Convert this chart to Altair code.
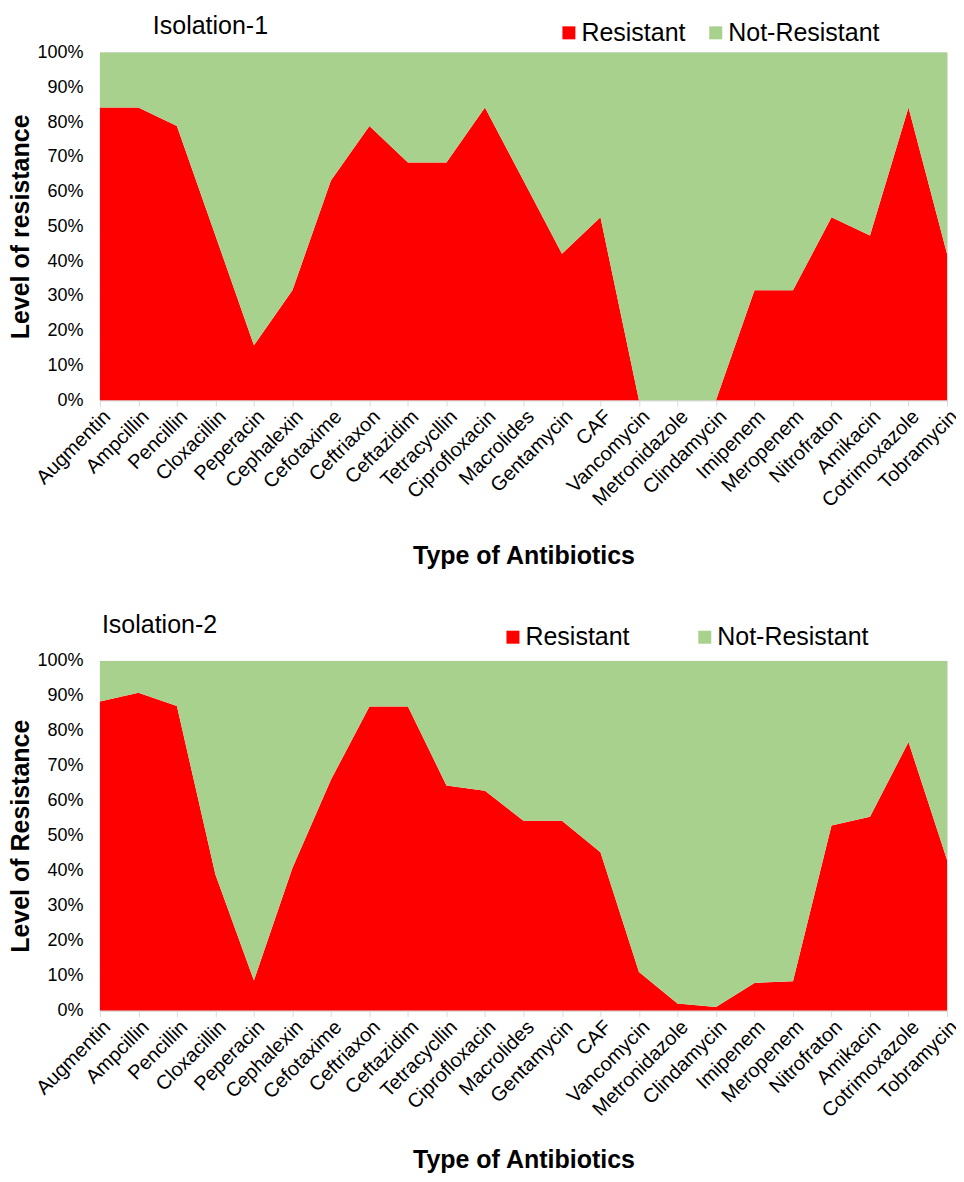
import altair as alt
import pandas as pd

antibiotics = ["Augmentin", "Ampcillin", "Pencillin", "Cloxacillin", "Peperacin",
               "Cephalexin", "Cefotaxime", "Ceftriaxon", "Ceftazidim", "Tetracycllin",
               "Ciprofloxacin", "Macrolides", "Gentamycin", "CAF", "Vancomycin",
               "Metronidazole", "Clindamycin", "Imipenem", "Meropenem", "Nitrofraton",
               "Amikacin", "Cotrimoxazole", "Tobramycin"]

resistant_1 = [84.2, 84.2, 78.9, 47.4, 15.8, 31.6, 63.2, 78.9, 68.4, 68.4, 84.2, 63.2,
               42.1, 52.6, 0.0, 0.0, 0.0, 31.6, 31.6, 52.6, 47.4, 84.2, 42.1]
resistant_2 = [88.4, 90.9, 87.1, 38.9, 8.6, 40.8, 66.0, 87.0, 87.0, 64.4, 62.9, 54.3,
               54.3, 45.3, 11.0, 2.0, 1.0, 7.9, 8.4, 52.9, 55.4, 76.8, 43.1]

series_names = ["Resistant", "Not-Resistant"]
series_colors = ["#FF0000", "#A9D18E"]
y_ticks = [0, 0.1, 0.2, 0.3, 0.4, 0.5, 0.6, 0.7, 0.8, 0.9, 1.0]

FONT = "Liberation Sans"


def make_df(res):
    rows = []
    for a, r in zip(antibiotics, res):
        rows.append({"Antibiotic": a, "Series": "Resistant", "value": r, "ord": 0})
        rows.append({"Antibiotic": a, "Series": "Not-Resistant", "value": 100 - r, "ord": 1})
    return pd.DataFrame(rows)


def panel(res, title_text, ytitle, title_x, title_y, legend_x, legend_y, col_pad, h, xt_pad):
    df = make_df(res)
    area = alt.Chart(df).mark_area(interpolate="linear").encode(
        x=alt.X("Antibiotic:N", sort=antibiotics, scale=alt.Scale(padding=0),
                axis=alt.Axis(title="Type of Antibiotics", labelAngle=-45, labelFontSize=20,
                              labelFont=FONT, labelColor="#000000", labelPadding=0,
                              ticks=True, tickSize=6, tickColor="#d9d9d9", domainColor="#d9d9d9",
                              titleFont=FONT, titleFontSize=25, titleFontWeight="bold",
                              titleColor="#000000", titlePadding=xt_pad, grid=False)),
        y=alt.Y("value:Q", stack="normalize",
                scale=alt.Scale(domain=[0, 1], nice=False),
                axis=alt.Axis(title=ytitle, values=y_ticks, format=".0%", labelFontSize=18,
                              labelFont=FONT, labelColor="#000000", ticks=False, tickSize=0,
                              labelPadding=17, domain=False, grid=True, gridColor="#d9d9d9",
                              titleFont=FONT, titleFontSize=25, titleFontWeight="bold",
                              titleColor="#000000", titlePadding=3)),
        color=alt.Color("Series:N", scale=alt.Scale(domain=series_names, range=series_colors),
                        legend=alt.Legend(title=None, orient="none", direction="horizontal",
                                          legendX=legend_x, legendY=legend_y, offset=0,
                                          symbolType="square", symbolSize=169,
                                          symbolStrokeWidth=0, labelFontSize=25, labelFont=FONT,
                                          labelColor="#000000", labelOffset=0,
                                          columnPadding=col_pad, padding=0)),
        order=alt.Order("ord:Q", sort="ascending"),
    )
    ttl = alt.Chart(pd.DataFrame({"t": [title_text]})).mark_text(
        align="left", baseline="alphabetic", fontSize=25, font=FONT, color="#000000"
    ).encode(text="t:N", x=alt.value(title_x), y=alt.value(title_y))
    return alt.layer(area, ttl).properties(width=848, height=h)


top = panel(resistant_1, "Isolation-1", "Level of resistance", 53, -19, 457, -32.5, 17, 348, 33)
bottom = panel(resistant_2, "Isolation-2", "Level of Resistance", 2, -28, 401, -36.5, 62, 350, 27)

chart = alt.vconcat(top, bottom, spacing=42).resolve_scale(color="independent").configure_view(
    stroke="transparent"
).configure(padding={"left": 0, "top": 4, "right": -6, "bottom": 0})

chart.save("out.html", embed_options={"renderer": "svg", "actions": False})
